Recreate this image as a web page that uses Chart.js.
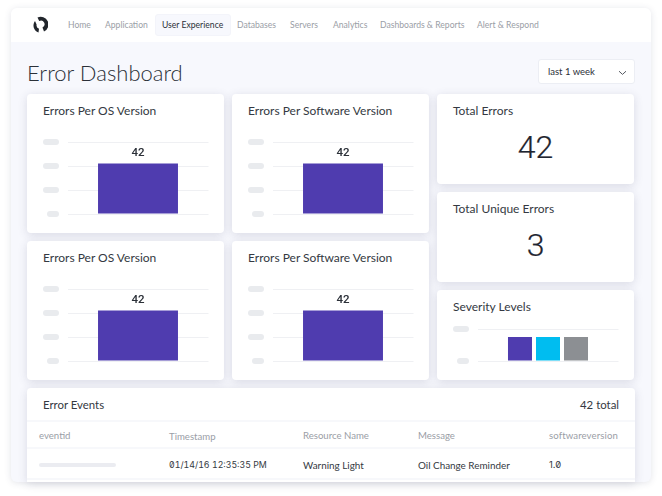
<!DOCTYPE html>
<html>
<head>
<meta charset="utf-8">
<script src="https://cdn.jsdelivr.net/npm/chart.js@4"></script>
<style>
  html, body { margin: 0; padding: 0; background: #fff; }
  body { width: 662px; height: 496px; overflow: hidden; position: relative; font-family: Lato, sans-serif; color: #2b3038; }
  .abs { position: absolute; white-space: nowrap; }
  #panel { position: absolute; left: 11px; top: 8px; width: 640px; height: 474px; background: #f7f8fd; border-radius: 6px; overflow: hidden; box-shadow: 0 1px 7px rgba(60,65,100,.14); }
  #top { position: absolute; left: 11px; top: 8px; width: 640px; height: 34px; background: #fff; border-radius: 6px 6px 0 0; }
  .nav { top: 19px; font-size: 8.6px; line-height: 12px; color: #9a9ea6; }
  .nav.on { color: #2b3038; }
  #tab { position: absolute; left: 155px; top: 14px; width: 76px; height: 22px; background: #f7f8fd; border-radius: 3px; border: 1px solid #f3f4fa; box-sizing: border-box; }
  #title { left: 27px; top: 58px; font-size: 22px; line-height: 30px; font-weight: 300; color: #2b3038; }
  #range { position: absolute; left: 538px; top: 59px; width: 97px; height: 25px; background: #fff; border: 1px solid #eceef4; border-radius: 3px; box-sizing: border-box; }
  #range span { position: absolute; left: 9px; top: 5px; font-size: 9.5px; line-height: 13px; }
  #range svg { position: absolute; left: 79px; top: 10px; }
  .card { position: absolute; background: #fff; border-radius: 4px; box-shadow: 0 2px 10px rgba(60,65,100,.16); }
  .card-title { font-size: 12px; line-height: 16px; color: #343942; }
  .big { font-family: Roboto, sans-serif; font-weight: 300; font-size: 32px; line-height: 36px; color: #1f2530; text-align: center; width: 197px; left: 437px; -webkit-text-stroke: 0.2px #1f2530; }
  canvas { position: absolute; }
  .th { top: 430px; font-size: 9.6px; line-height: 12px; color: #9a9ea6; }
  .td { top: 459px; font-size: 9.9px; line-height: 12px; color: #343942; }
  .sep { position: absolute; left: 27px; width: 608px; height: 2px; background: #f7f8fb; }
</style>
</head>
<body>
<div id="panel"></div>
<div id="top"></div>
<svg class="abs" style="left:32px;top:16px" width="16" height="18" viewBox="0 0 16 18">
  <path d="M5.5 1.5 A7.5 7.5 0 0 1 12 15.5 L10.5 11.5 A3.6 3.6 0 0 0 7.2 5 Z" fill="#22262c"/>
  <path d="M3 5 A7.5 7.5 0 0 0 6.5 16.6 L7 12.8 A3.8 3.8 0 0 1 4.6 8.5 Z" fill="#22262c"/>
</svg>
<div id="tab"></div>
<div class="abs nav" style="left:68px">Home</div>
<div class="abs nav" style="left:105px">Application</div>
<div class="abs nav on" style="left:162px">User Experience</div>
<div class="abs nav" style="left:237px">Databases</div>
<div class="abs nav" style="left:290px">Servers</div>
<div class="abs nav" style="left:333px">Analytics</div>
<div class="abs nav" style="left:380px">Dashboards &amp; Reports</div>
<div class="abs nav" style="left:477px">Alert &amp; Respond</div>

<div id="title" class="abs">Error Dashboard</div>
<div id="range"><span>last 1 week</span>
  <svg width="9" height="6" viewBox="0 0 9 6"><path d="M1 1.2 L4.5 4.4 L8 1.2" fill="none" stroke="#555a62" stroke-width="1"/></svg>
</div>

<div class="card" style="left:27px;top:94px;width:197px;height:139px"></div>
<div class="card" style="left:232px;top:94px;width:197px;height:139px"></div>
<div class="card" style="left:27px;top:241px;width:197px;height:139px"></div>
<div class="card" style="left:232px;top:241px;width:197px;height:139px"></div>
<div class="card" style="left:437px;top:94px;width:197px;height:90px"></div>
<div class="card" style="left:437px;top:192px;width:197px;height:90px"></div>
<div class="card" style="left:437px;top:290px;width:197px;height:90px"></div>
<div class="card" style="left:27px;top:388px;width:608px;height:94px;border-radius:4px 4px 0 0"></div>

<div class="abs card-title" style="left:43px;top:103px">Errors Per OS Version</div>
<div class="abs card-title" style="left:248px;top:103px">Errors Per Software Version</div>
<div class="abs card-title" style="left:43px;top:250px">Errors Per OS Version</div>
<div class="abs card-title" style="left:248px;top:250px">Errors Per Software Version</div>
<div class="abs card-title" style="left:453px;top:103px">Total Errors</div>
<div class="abs card-title" style="left:453px;top:201px">Total Unique Errors</div>
<div class="abs card-title" style="left:453px;top:299px">Severity Levels</div>
<div class="abs big" style="top:129px">42</div>
<div class="abs big" style="top:227px">3</div>

<canvas id="os1" style="left:35px;top:125px;width:181px;height:100px"></canvas>
<canvas id="sw1" style="left:240px;top:125px;width:181px;height:100px"></canvas>
<canvas id="os2" style="left:35px;top:272px;width:181px;height:100px"></canvas>
<canvas id="sw2" style="left:240px;top:272px;width:181px;height:100px"></canvas>
<canvas id="sev" style="left:445px;top:318px;width:181px;height:54px"></canvas>

<div class="abs card-title" style="left:43px;top:397px;font-size:11.4px">Error Events</div>
<div class="abs card-title" style="right:43px;top:397px;font-size:11.4px">42 total</div>
<div class="sep" style="top:420px"></div>
<div class="sep" style="top:447px"></div>
<div class="sep" style="top:478px"></div>
<div class="abs th" style="left:39px">eventid</div>
<div class="abs th" style="left:169px;top:431px">Timestamp</div>
<div class="abs th" style="left:303px">Resource Name</div>
<div class="abs th" style="left:418px">Message</div>
<div class="abs th" style="left:549px;letter-spacing:.1px">softwareversion</div>
<div class="abs" style="left:39px;top:463px;width:77px;height:4px;border-radius:2px;background:#ebecf1"></div>
<div class="abs td" style="left:169px;font-family:Inter,sans-serif;font-size:8.8px;font-feature-settings:'zero','tnum'">01/14/16 12:35:35 PM</div>
<div class="abs td" style="left:303px">Warning Light</div>
<div class="abs td" style="left:418px">Oil Change Reminder</div>
<div class="abs td" style="left:549px;font-family:Inter,sans-serif;font-size:9.4px;font-feature-settings:'zero'">1.0</div>

<script>
const versionLabels = ['1.0']
const osErrors = [42]
const softwareErrors = [42]
const errorTicksMax = 60
const errorTicksStep = 20

const severityLabels = ['Severity']
const severityHigh = [15]
const severityMedium = [15]
const severityLow = [15]
const severityTicksMax = 20

const purple = '#4f3caf'
const cyan = '#00bdf0'
const grey = '#8c8f93'

// the y tick labels are blanked out in the picture, drawn as grey pills
const pillTicks = {
  id: 'pillTicks',
  afterDraw(chart) {
    const { ctx, chartArea, scales } = chart
    ctx.save()
    ctx.fillStyle = '#e9ebee'
    scales.y.ticks.forEach(t => {
      const y = scales.y.getPixelForValue(t.value)
      const w = t.value === 0 ? 12 : 16
      ctx.beginPath()
      ctx.roundRect(Math.floor(chartArea.left) - 8 - w, y - 3, w, 6, 3)
      ctx.fill()
    })
    ctx.restore()
  }
}

const valueLabel = {
  id: 'valueLabel',
  afterDatasetsDraw(chart, args, opts) {
    if (!opts.show) return
    const { ctx } = chart
    ctx.save()
    ctx.font = '500 11.5px Roboto, sans-serif'
    ctx.fillStyle = '#2b3038'
    ctx.textAlign = 'center'
    ctx.textBaseline = 'bottom'
    chart.getDatasetMeta(0).data.forEach((bar, i) => {
      ctx.fillText(chart.data.datasets[0].data[i], bar.x, bar.y - 5)
    })
    ctx.restore()
  }
}

function barOptions(max, step, padding, showValue) {
  return {
    responsive: false,
    animation: false,
    layout: { padding },
    plugins: { legend: { display: false }, tooltip: { enabled: false }, valueLabel: { show: showValue } },
    scales: {
      x: { display: false },
      y: {
        min: 0,
        max,
        ticks: { stepSize: step, display: false },
        border: { display: false },
        grid: { color: '#eff0f3', lineWidth: 1, drawTicks: false }
      }
    }
  }
}

function errorChart(id, values) {
  const canvas = document.getElementById(id)
  canvas.width = 181
  canvas.height = 100
  new Chart(canvas, {
    type: 'bar',
    data: {
      labels: versionLabels,
      datasets: [{ data: values, backgroundColor: purple, barPercentage: 0.567, categoryPercentage: 1 }]
    },
    options: barOptions(errorTicksMax, errorTicksStep, { left: 32.5, right: 7.5, top: 17, bottom: 11 }, true),
    plugins: [pillTicks, valueLabel]
  })
}

errorChart('os1', osErrors)
errorChart('sw1', softwareErrors)
errorChart('os2', osErrors)
errorChart('sw2', softwareErrors)

const sevCanvas = document.getElementById('sev')
sevCanvas.width = 181
sevCanvas.height = 54
new Chart(sevCanvas, {
  type: 'bar',
  data: {
    labels: severityLabels,
    datasets: [
      { data: severityHigh, backgroundColor: purple },
      { data: severityMedium, backgroundColor: cyan },
      { data: severityLow, backgroundColor: grey }
    ].map(d => ({ ...d, barPercentage: 0.857, categoryPercentage: 0.596 }))
  },
  options: barOptions(severityTicksMax, severityTicksMax, { left: 32.5, right: 7.5, top: 11, bottom: 11 }, false),
  plugins: [pillTicks]
})
</script>
</body>
</html>
